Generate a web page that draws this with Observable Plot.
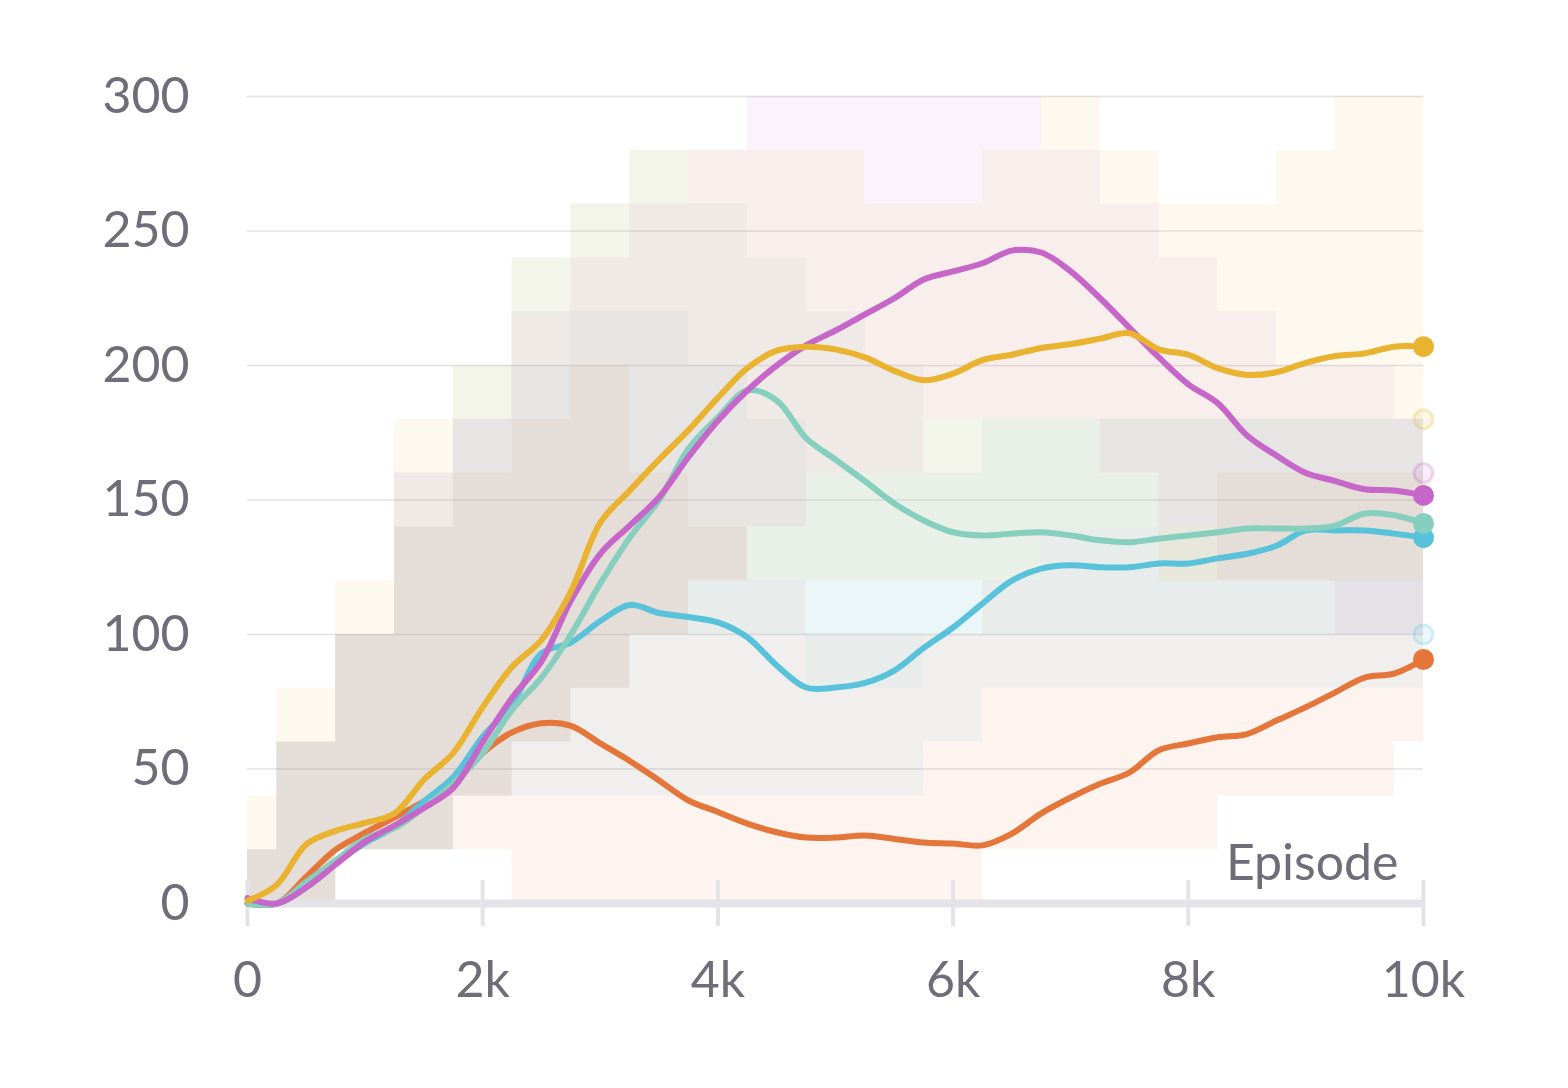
<!DOCTYPE html>
<html><head><meta charset="utf-8">
<script src="https://cdn.jsdelivr.net/npm/d3@7"></script>
<script src="https://cdn.jsdelivr.net/npm/@observablehq/plot@0.6"></script>
<style>body{margin:0;background:#fff}#chart{width:1568px;height:1088px}</style>
</head><body><div id="chart"></div>
<script>
// Smoothed curves, sampled every 250 episodes
const episodes = [0,250,500,750,1000,1250,1500,1750,2000,2250,2500,2750,3000,3250,3500,3750,4000,4250,4500,4750,5000,5250,5500,5750,6000,6250,6500,6750,7000,7250,7500,7750,8000,8250,8500,8750,9000,9250,9500,9750,10000];
const yellowRun  = [1,7,22,27,30,33.5,46,56,73,88,98,116,141.6,153.5,165,176,188,199,205.5,207,206,203,198,194.5,197,202,204,206.5,208,210,212,206,204,199,196.5,197.5,201,203.5,204.5,207,207];
const magentaRun = [2,0,6,14.5,23,29,35.5,43,60,76.5,90,112.6,130,140.5,151,166,179.5,190.7,200,207.5,213,219,225,232,235,238,242.7,242,235,225,214,203,193,186,174,166.5,160,157,154,153.5,151.7];
const tealRun    = [0,0,8,16,24,28,35.7,44.5,56,72,84,100,119,136,150,169,180.7,190.7,187,173,165,157,148.7,142.4,138,136.8,137.5,138,136.8,135,134.3,135.6,136.8,138,139.4,139.4,139.4,140.5,145,144.3,141.3];
const cyanRun    = [0,0,6,15,22.5,28.5,38,47,62,74,93,97,105,111,108,106.5,104.5,99,88.5,80.3,80.3,82,86.6,95,102.6,111.5,120,124.5,125.7,125,125,126.4,126.4,128.3,130,133,138.7,138.7,138.7,137.5,136];
const orangeRun  = [0,0,10,20,26.3,32,38,44.5,56,63.6,67,66,59.5,53,45.7,38.3,34,29.7,26.5,24.5,24.5,25.3,24,22.7,22.3,21.6,26,33.5,39.4,44.5,48.7,57,59.5,61.8,63,68,73,78.5,84,85.5,90.7];

// Raw-value envelopes (faint background), every 500 episodes
const rawEpisodes = [0,500,1000,1500,2000,2500,3000,3500,4000,4500,5000,5500,6000,6500,7000,7500,8000,8500,9000,9500,10000];
const yellowLo  = [0,0,20,20,40,60,80,100,120,120,120,120,120,120,140,140,120,120,120,120,120];
const yellowHi  = [40,80,120,180,200,240,260,280,280,280,280,260,260,280,300,280,260,260,280,300,300];
const magentaLo = [0,0,20,20,40,60,80,100,120,140,160,160,180,180,180,160,140,120,120,100,100];
const magentaHi = [20,60,100,160,180,220,240,260,280,300,300,300,300,300,280,260,240,220,200,200,180];
const tealLo    = [0,0,20,20,40,60,80,100,100,100,80,80,100,100,100,100,100,100,100,100,100];
const tealHi    = [20,60,100,160,200,240,260,280,260,240,220,200,180,180,180,180,180,180,180,180,180];
const cyanLo    = [0,0,20,20,40,40,40,40,40,40,40,40,60,80,80,80,80,80,80,80,80];
const cyanHi    = [20,60,100,140,180,200,220,220,200,180,160,160,160,180,180,180,180,180,180,180,180];
const orangeLo  = [0,0,20,20,20,0,0,0,0,0,0,0,0,20,20,20,20,40,40,40,60];
const orangeHi  = [20,60,100,140,160,180,200,160,140,120,100,100,100,120,140,140,140,160,160,160,160];

// Last raw values shown as faint markers
const lastRawSeries = ["run-yellow","run-magenta","run-cyan"];
const lastRawValues = [180,160,100];

const seriesNames = ["run-orange","run-cyan","run-teal","run-magenta","run-yellow"];
const seriesColors = ["#E5763A","#57C2D9","#86CFBE","#C566C8","#E9B22F"];
const runs  = {"run-yellow":yellowRun, "run-magenta":magentaRun, "run-teal":tealRun, "run-cyan":cyanRun, "run-orange":orangeRun};
const lows  = {"run-yellow":yellowLo, "run-magenta":magentaLo, "run-teal":tealLo, "run-cyan":cyanLo, "run-orange":orangeLo};
const highs = {"run-yellow":yellowHi, "run-magenta":magentaHi, "run-teal":tealHi, "run-cyan":cyanHi, "run-orange":orangeHi};

const yTicks = [0,50,100,150,200,250,300];
const xTicks = [0,2000,4000,6000,8000,10000];
const xLabel = "Episode";

const lineData = seriesNames.flatMap(s => episodes.map((e,i) => ({series:s, episode:e, value:runs[s][i]})));
const bandData = seriesNames.flatMap(s => rawEpisodes.map((e,i) => ({series:s, episode:e, lo:lows[s][i], hi:highs[s][i]})));
const endData = seriesNames.map(s => ({series:s, episode:episodes[episodes.length-1], value:runs[s][runs[s].length-1]}));
const rawEnd = lastRawSeries.map((s,i) => ({series:s, episode:episodes[episodes.length-1], value:lastRawValues[i]}));

const textColor = "#6e6d79";

const chart = Plot.plot({
  width:1568, height:1088,
  marginLeft:247, marginRight:145, marginTop:96, marginBottom:185,
  style:{fontFamily:"Lato, 'Noto Sans', sans-serif", fontSize:"50px", color:textColor, background:"#fff"},
  x:{domain:[0,10000], label:null},
  y:{domain:[0,300], label:null},
  color:{type:"ordinal", domain: seriesNames, range: seriesColors},
  marks:[
    Plot.gridY(yTicks.slice(1), {stroke:"#e3e3e6", strokeOpacity:1, strokeWidth:1.5}),
    Plot.areaY(bandData, {x:"episode", y1:"lo", y2:"hi", z:"series", fill:"series", fillOpacity:0.08, curve:"step"}),
    Plot.ruleY([0], {stroke:"#e4e4e8", strokeWidth:8}),
    Plot.ruleX(xTicks, {y1:0, y2:0, insetTop:-23, insetBottom:-23, stroke:"#e4e4e8", strokeWidth:4}),
    Plot.axisY(yTicks, {tickSize:0, tickPadding:58, fontSize:50, fill:textColor, label:null}),
    Plot.axisX(xTicks, {tickSize:0, tickPadding:58, fontSize:50, fill:textColor, label:null, tickFormat: d => d === 0 ? "0" : (d/1000) + "k"}),
    Plot.text([xLabel], {frameAnchor:"bottom-right", textAnchor:"end", lineAnchor:"bottom", dx:-25, dy:-24, fontSize:50, fill:textColor}),
    Plot.dot(rawEnd, {x:"episode", y:"value", r:9.5, stroke:"series", strokeWidth:3, strokeOpacity:0.25, fill:"series", fillOpacity:0.12}),
    Plot.line(lineData, {x:"episode", y:"value", z:"series", stroke:"series", strokeWidth:6, curve:"catmull-rom"}),
    Plot.dot(endData, {x:"episode", y:"value", r:10.5, fill:"series"})
  ]
});
document.getElementById("chart").append(chart);
</script>
</body></html>
